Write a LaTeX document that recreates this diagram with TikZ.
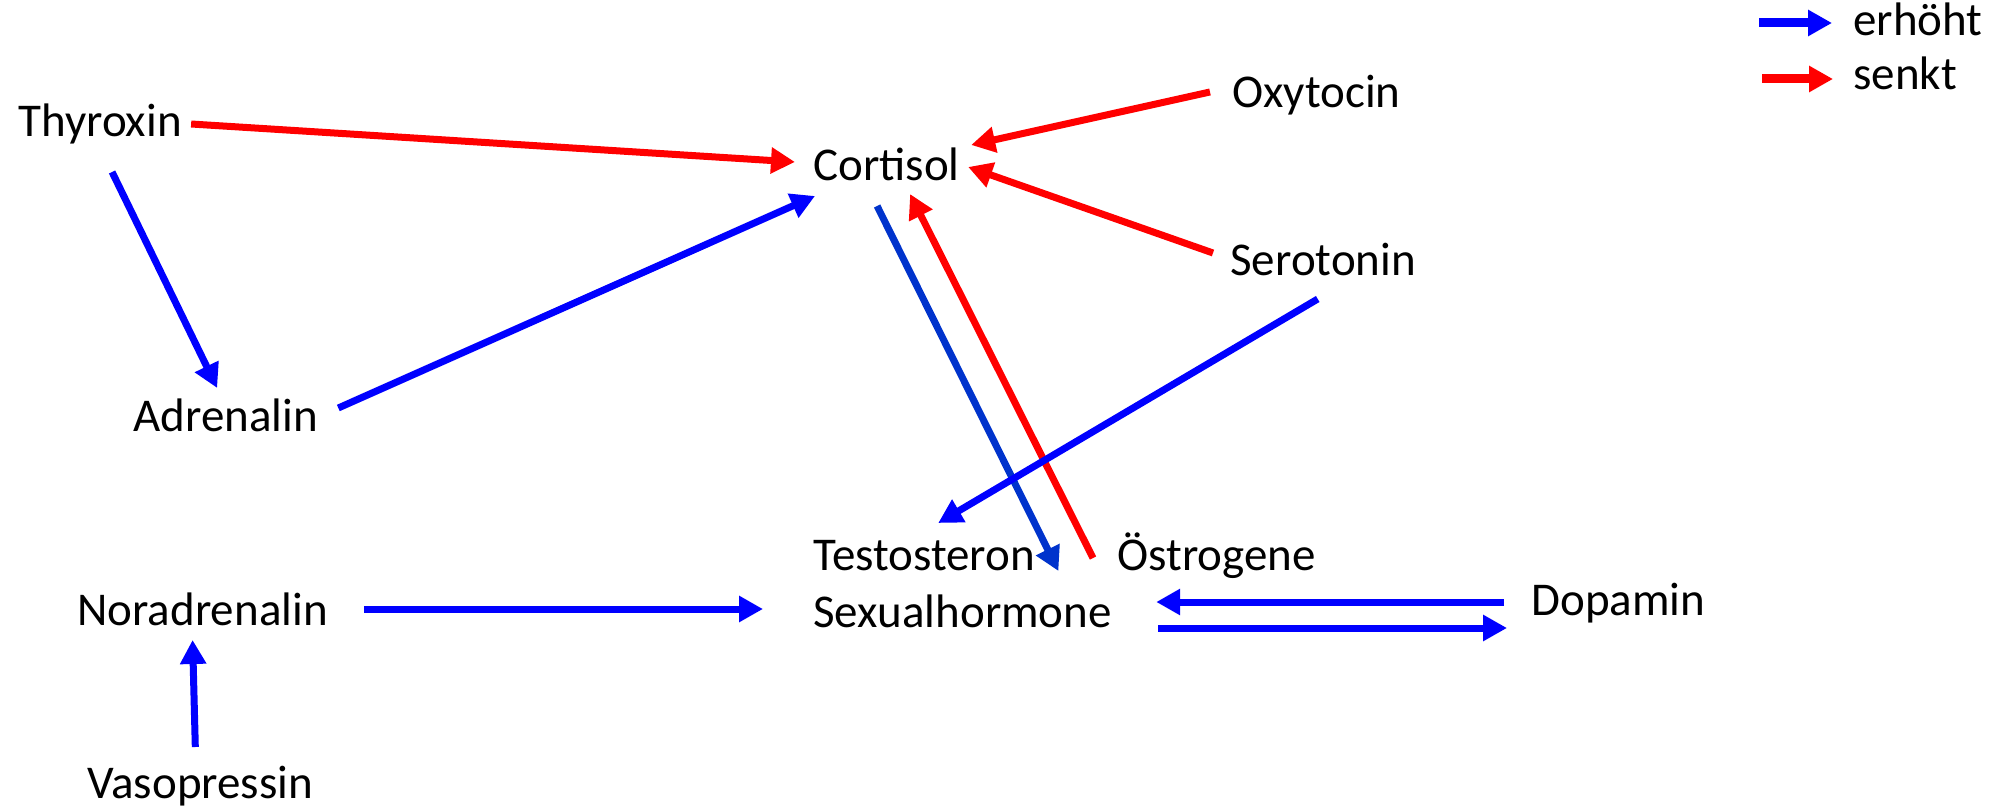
\documentclass[tikz,border=0pt]{standalone}
\usepackage{fontspec}
\setmainfont{Carlito}
\usetikzlibrary{arrows.meta,calc}

\definecolor{upblue}{RGB}{0,0,255}
\definecolor{downred}{RGB}{255,0,0}
\definecolor{darkblue}{RGB}{0,51,204}

\tikzset{
  hormone/.style={inner sep=0pt,anchor=base west,font=\fontsize{23.5pt}{28pt}\selectfont},
  effect/.style={line width=3.5pt,-{Triangle[length=12pt,width=12.5pt]}},
  incr/.style={effect,draw=upblue,fill=upblue},
  decr/.style={effect,draw=downred,fill=downred},
}

\begin{document}
\begin{tikzpicture}[x=0.5pt,y=-0.5pt]
  \useasboundingbox (0,0) rectangle (1992,812);
  \foreach \name/\txt/\x/\y in {thyroxin/Thyroxin/18/137,
      adrenalin/Adrenalin/133/432, noradrenalin/Noradrenalin/77/625,
      vasopressin/Vasopressin/87/798, cortisol/Cortisol/813/181,
      oxytocin/Oxytocin/1232/108, serotonin/Serotonin/1230/276,
      testosteron/Testosteron/813/570, oestrogene/Östrogene/1117/570,
      sexualhormone/Sexualhormone/813/627, dopamin/Dopamin/1531/615,
      erhoeht/erhöht/1853/36, senkt/senkt/1853/90}{
    \node[hormone] (\name) at (\x,\y) {\txt};
  }
  % legend
  \draw[incr,line width=4.5pt] ($(erhoeht.base west)+(-94,-13)$) -- ($(erhoeht.base west)+(-21,-13)$);
  \draw[decr,line width=4.5pt] ($(senkt.base west)+(-91,-11)$) -- ($(senkt.base west)+(-20,-11)$);
  % into cortisol
  \draw[decr] ($(thyroxin.base east)+(9,-13)$) -- ($(cortisol.base west)+(-18,-19)$);
  \draw[incr] ($(thyroxin.base)+(12,35)$) -- ($(adrenalin.base)+(-8.5,-44)$);
  \draw[incr] ($(adrenalin.base east)+(20,-24)$) -- ($(cortisol.base west)+(2,15)$);
  \draw[decr] ($(oxytocin.base west)+(-22,-16)$) -- ($(cortisol.base east)+(11,-36)$);
  \draw[decr] ($(serotonin.base west)+(-17,-23)$) -- ($(cortisol.base east)+(8,-14)$);
  \draw[incr,draw=darkblue,fill=darkblue] ($(cortisol.base)+(-9.5,25)$) -- ($(testosteron.base east)+(23,1)$);
  \draw[decr] ($(oestrogene.base west)+(-24,-12)$) -- ($(cortisol.base)+(23.5,13)$);
  \draw[incr] ($(serotonin.base)+(-5.5,23)$) -- ($(testosteron.base)+(14,-47)$);
  % sexual hormones
  \draw[incr] ($(noradrenalin.base east)+(36,-16)$) -- ($(sexualhormone.base west)+(-50,-18)$);
  \draw[incr] ($(dopamin.base west)+(-27,-13)$) -- ($(sexualhormone.base east)+(44,-25)$);
  \draw[incr] ($(sexualhormone.base east)+(46,1)$) -- ($(dopamin.base west)+(-24,13)$);
  \draw[incr] ($(vasopressin.base)+(-5,-51)$) -- ($(noradrenalin.base)+(-10,15)$);
\end{tikzpicture}
\end{document}
